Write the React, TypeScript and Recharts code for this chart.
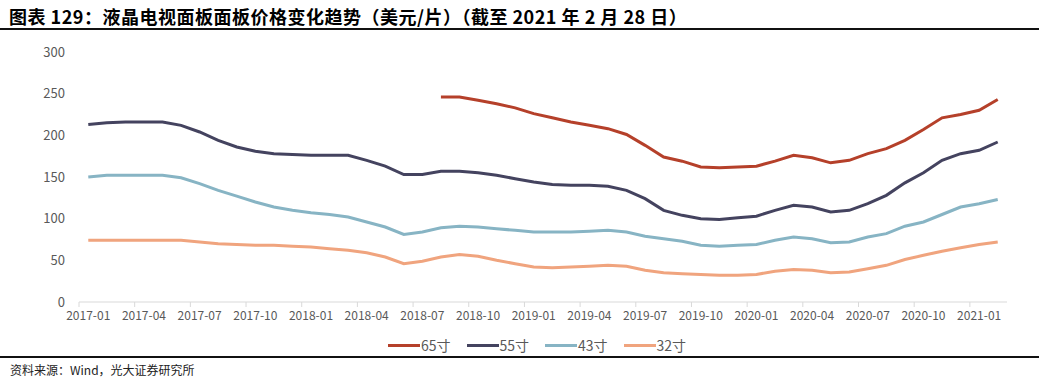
import { LineChart, Line, XAxis, YAxis } from "recharts";

const months = [
  "2017-01", "2017-02", "2017-03", "2017-04", "2017-05", "2017-06", "2017-07", "2017-08", "2017-09", "2017-10",
  "2017-11", "2017-12", "2018-01", "2018-02", "2018-03", "2018-04", "2018-05", "2018-06", "2018-07", "2018-08",
  "2018-09", "2018-10", "2018-11", "2018-12", "2019-01", "2019-02", "2019-03", "2019-04", "2019-05", "2019-06",
  "2019-07", "2019-08", "2019-09", "2019-10", "2019-11", "2019-12", "2020-01", "2020-02", "2020-03", "2020-04",
  "2020-05", "2020-06", "2020-07", "2020-08", "2020-09", "2020-10", "2020-11", "2020-12", "2021-01", "2021-02",
];

// 65寸 只从 2018-08 开始有数据
const p65 = [
  null, null, null, null, null, null, null, null, null, null,
  null, null, null, null, null, null, null, null, null, 246,
  246, 242, 238, 233, 226, 221, 216, 212, 208, 201,
  188, 174, 169, 162, 161, 162, 163, 169, 176, 173,
  167, 170, 178, 184, 194, 207, 221, 225, 230, 243,
];
const p55 = [
  213, 215, 216, 216, 216, 212, 204, 194, 186, 181,
  178, 177, 176, 176, 176, 170, 163, 153, 153, 157,
  157, 155, 152, 148, 144, 141, 140, 140, 139, 134,
  124, 110, 104, 100, 99, 101, 103, 110, 116, 114,
  108, 110, 118, 128, 143, 155, 170, 178, 182, 192,
];
const p43 = [
  150, 152, 152, 152, 152, 149, 142, 134, 127, 120,
  114, 110, 107, 105, 102, 96, 90, 81, 84, 89,
  91, 90, 88, 86, 84, 84, 84, 85, 86, 84,
  79, 76, 73, 68, 67, 68, 69, 74, 78, 76,
  71, 72, 78, 82, 91, 96, 105, 114, 118, 123,
];
const p32 = [
  74, 74, 74, 74, 74, 74, 72, 70, 69, 68,
  68, 67, 66, 64, 62, 59, 54, 46, 49, 54,
  57, 55, 50, 46, 42, 41, 42, 43, 44, 43,
  38, 35, 34, 33, 32, 32, 33, 37, 39, 38,
  35, 36, 40, 44, 51, 56, 61, 65, 69, 72,
];
const yTicks = [0, 50, 100, 150, 200, 250, 300];

const series = [
  { key: "s65", name: "65寸", color: "#b5402a" },
  { key: "s55", name: "55寸", color: "#44435f" },
  { key: "s43", name: "43寸", color: "#87b4c4" },
  { key: "s32", name: "32寸", color: "#f0a47e" },
];

const data = months.map((m, i) => ({ month: m, s65: p65[i], s55: p55[i], s43: p43[i], s32: p32[i] }));

const FONT = '"Noto Sans CJK SC", "Noto Sans", sans-serif';
const HALF = 928 / 50 / 2;

const XTick = (props: any) => {
  const { x, y, payload } = props;
  return (
    <g>
      <line x1={x - HALF} x2={x - HALF} y1={302} y2={307} stroke="#d9d9d9" />
      <text x={x} y={y} dy={10} textAnchor="middle" fontSize={12} fill="#595959" fontFamily={FONT}>
        {payload.value}
      </text>
    </g>
  );
};

export default function App() {
  return (
    <div style={{ position: "absolute", left: 0, top: 0, width: 1039, height: 390, background: "#fff", fontFamily: FONT }}>
      <div style={{ position: "absolute", left: 9, top: 4, fontSize: 18, fontWeight: 700, color: "#000", whiteSpace: "nowrap", lineHeight: "24px", letterSpacing: 0.5 }}>
        图表 129：液晶电视面板面板价格变化趋势（美元/片）（截至 2021 年 2 月 28 日）
      </div>
      <div style={{ position: "absolute", left: 0, top: 28, width: 1039, height: 2, background: "#111" }} />

      <div style={{ position: "absolute", left: 0, top: 0 }}>
        <LineChart width={1039} height={325} data={data} margin={{ top: 52, right: 32, left: 0, bottom: 0 }}>
          <XAxis
            dataKey="month"
            interval={2}
            height={23}
            padding={{ left: HALF, right: HALF }}
            tickLine={false}
            axisLine={{ stroke: "#d9d9d9" }}
            tick={<XTick />}
          />
          <YAxis
            width={79}
            domain={[0, 300]}
            ticks={yTicks}
            axisLine={false}
            tickLine={false}
            tickSize={0}
            tickMargin={14}
            tick={{ fontSize: 13, fill: "#595959", fontFamily: FONT }}
          />
          {series.map((s) => (
            <Line
              key={s.key}
              dataKey={s.key}
              name={s.name}
              stroke={s.color}
              strokeWidth={3}
              dot={false}
              type="linear"
              connectNulls={false}
              isAnimationActive={false}
            />
          ))}
        </LineChart>
      </div>

      {series.map((s, i) => (
        <div key={s.key} style={{ position: "absolute", top: 336, left: 388 + i * 78.5, display: "flex", alignItems: "center" }}>
          <div style={{ width: 32, height: 3, background: s.color, marginRight: 1 }} />
          <span style={{ fontSize: 14, color: "#595959", lineHeight: "18px" }}>{s.name}</span>
        </div>
      ))}

      <div style={{ position: "absolute", left: 0, top: 356, width: 1039, height: 2, background: "#111" }} />
      <div style={{ position: "absolute", left: 10, top: 362, fontSize: 12, color: "#222", lineHeight: "16px" }}>
        资料来源：Wind，光大证券研究所
      </div>
    </div>
  );
}
